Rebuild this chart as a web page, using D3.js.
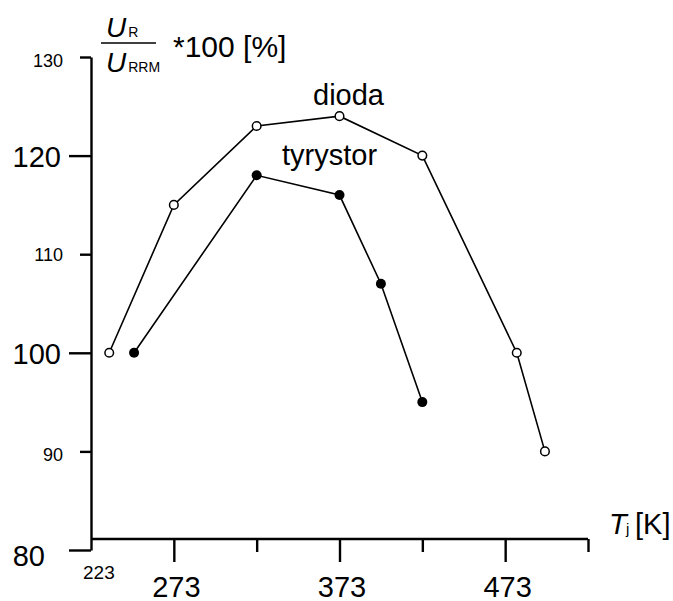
<!DOCTYPE html>
<html>
<head>
<meta charset="utf-8">
<script src="https://cdn.jsdelivr.net/npm/d3@7"></script>
<style>
  body { margin: 0; background: #fff; }
  text { font-family: "Liberation Sans", Arial, sans-serif; fill: #000; }
</style>
</head>
<body>
<svg id="chart" width="673" height="601"></svg>
<script>
// junction temperature [K] and U_R/U_RRM*100 [%]
let diodaT = [234, 273, 323, 373, 423, 480, 497]
let diodaU = [100, 115, 123, 124, 120, 100, 90]
let tyrT = [249, 323, 373, 398, 423]
let tyrU = [100, 118, 116, 107, 95]

let yTicks = [80, 90, 100, 110, 120, 130]
let yMajor = [80, 100, 120]
let xTicks = [273, 323, 373, 423, 473, 523]
let xLabels = [273, 373, 473]

let svg = d3.select("#chart")
let x = d3.scaleLinear().domain([223, 523]).range([91, 588])
let y = d3.scaleLinear().domain([80, 130]).range([550, 57])
let xAxisY = 539

// y axis
let yAxis = svg.append("g")
  .attr("transform", `translate(${x(223)},0)`)
  .call(d3.axisLeft(y).tickValues(yTicks).tickSizeOuter(0))
yAxis.select(".domain").attr("stroke-width", 2.4)
yAxis.selectAll(".tick line")
  .attr("stroke-width", 2.4)
  .attr("x2", d => yMajor.includes(d) ? -22 : -11)
yAxis.selectAll(".tick text")
  .attr("font-family", "Liberation Sans, Arial, sans-serif")
  .attr("font-size", d => yMajor.includes(d) ? 29 : 18)
  .attr("x", d => d == 80 ? -46 : (yMajor.includes(d) ? -30 : -28))
  .attr("dy", d => d == 80 ? "0.55em" : (d == 90 || d == 130 ? "0.5em" : "0.36em"))

// x axis
let xAxis = svg.append("g")
  .attr("transform", `translate(0,${xAxisY})`)
  .call(d3.axisBottom(x).tickValues(xTicks).tickSizeOuter(0)
    .tickFormat(d => xLabels.includes(d) ? d : ""))
xAxis.select(".domain").attr("stroke-width", 2.4).attr("d", `M${x(223)},0H${x(523)}`)
xAxis.selectAll(".tick line")
  .attr("stroke-width", 2.4)
  .attr("y2", d => xLabels.includes(d) ? 23 : 13)
xAxis.selectAll(".tick text")
  .attr("font-family", "Liberation Sans, Arial, sans-serif")
  .attr("font-size", 29)
  .attr("x", 2)
  .attr("y", 37)
  .attr("dy", "0.71em")

svg.append("text")
  .attr("x", 83).attr("y", 579)
  .attr("font-size", 19)
  .text("223")

// axis titles
let tj = svg.append("text").attr("y", 534).attr("font-size", 29)
tj.append("tspan").attr("x", 609).attr("font-style", "italic").text("T")
tj.append("tspan").attr("x", 626).attr("font-size", 15).text("j")
tj.append("tspan").attr("x", 635).text("[K]")

let num = svg.append("text").attr("x", 106).attr("y", 37).attr("font-size", 28)
num.append("tspan").attr("font-style", "italic").text("U")
num.append("tspan").attr("font-size", 14).attr("dx", 2).text("R")
svg.append("line")
  .attr("x1", 101).attr("x2", 156).attr("y1", 43).attr("y2", 43)
  .attr("stroke", "#000").attr("stroke-width", 1.6)
let den = svg.append("text").attr("x", 106).attr("y", 72).attr("font-size", 28)
den.append("tspan").attr("font-style", "italic").text("U")
den.append("tspan").attr("font-size", 14).attr("dx", 2).text("RRM")
svg.append("text").attr("x", 173).attr("y", 57).attr("font-size", 30).text("*100 [%]")

// series
let line = d3.line().x(d => x(d[0])).y(d => y(d[1]))
let dioda = diodaT.map((t, i) => [t, diodaU[i]])
let tyr = tyrT.map((t, i) => [t, tyrU[i]])

svg.append("path").datum(dioda)
  .attr("d", line).attr("fill", "none").attr("stroke", "#000").attr("stroke-width", 1.6)
svg.append("path").datum(tyr)
  .attr("d", line).attr("fill", "none").attr("stroke", "#000").attr("stroke-width", 1.6)

svg.append("g").selectAll("circle")
  .data(dioda).enter()
  .append("circle")
  .attr("cx", d => x(d[0])).attr("cy", d => y(d[1])).attr("r", 4.3)
  .attr("fill", "#fff").attr("stroke", "#000").attr("stroke-width", 1.5)

svg.append("g").selectAll("circle")
  .data(tyr).enter()
  .append("circle")
  .attr("cx", d => x(d[0])).attr("cy", d => y(d[1])).attr("r", 5)
  .attr("fill", "#000")

// series labels
svg.append("text").attr("x", 313).attr("y", 105).attr("font-size", 29).text("dioda")
svg.append("text").attr("x", 282).attr("y", 165).attr("font-size", 29).text("tyrystor")
</script>
</body>
</html>
